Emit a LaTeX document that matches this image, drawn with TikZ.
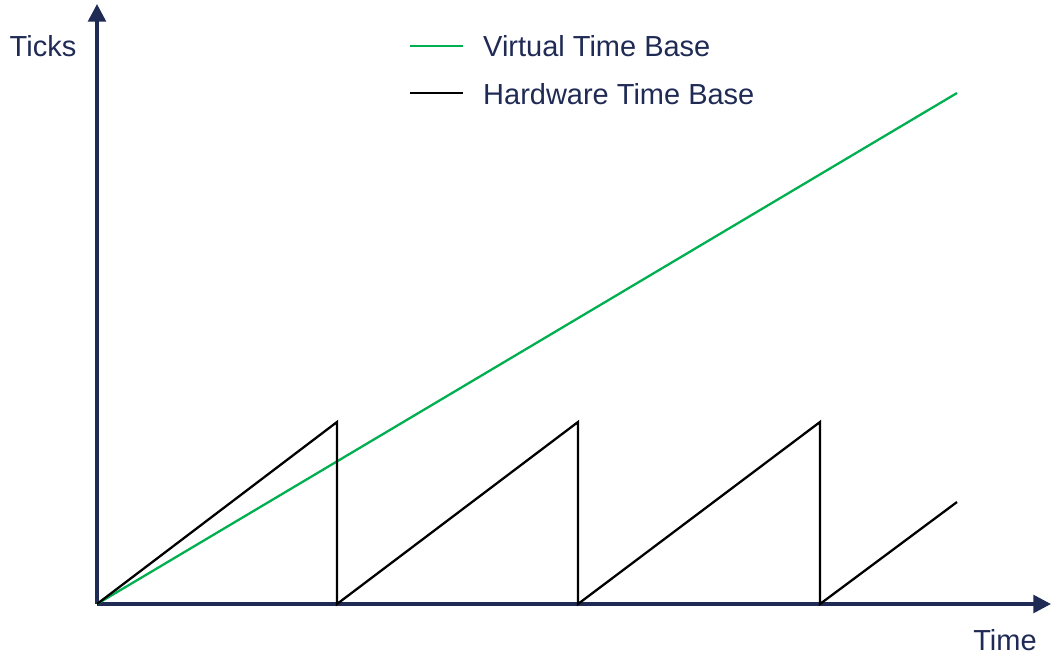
\documentclass[tikz,border=0pt]{standalone}
\usepackage{fontspec}
\setmainfont{Liberation Sans}
\usetikzlibrary{arrows.meta}
\definecolor{navy}{HTML}{1F2A55}
\definecolor{vgreen}{HTML}{00B050}
\tikzset{
  axis/.style={navy, line width=2pt, -{Triangle[length=10pt,width=10pt]}},
  label/.style={navy, font=\fontsize{16.5}{19}\selectfont},
  virtual/.style={vgreen, line width=1.3pt},
  hardware/.style={black, line width=1.3pt, line join=miter}
}
\begin{document}
\begin{tikzpicture}[x=0.02cm, y=-0.02cm]
    \useasboundingbox (0,0) rectangle (1051,660);
    \coordinate (O)     at (97,604);
    \coordinate (ytip)  at (97,4);
    \coordinate (xtip)  at (1051,604);
    \draw [axis] (O) -- (ytip);
    \draw [axis] (O) -- (xtip);
    \node [label] (ticks) at (43,46)   {Ticks};
    \node [label] (time)  at (1005,640) {Time};
    % legend
    \coordinate (g1) at (410,46);
    \coordinate (g2) at (463,46);
    \coordinate (h1) at (410,93);
    \coordinate (h2) at (463,93);
    \draw [virtual]  (g1) -- (g2);
    \draw [hardware] (h1) -- (h2);
    \node [label, anchor=west] (vlabel) at (477,46) {Virtual Time Base};
    \node [label, anchor=west] (hlabel) at (477,94) {Hardware Time Base};
    % curves
    \coordinate (vend) at (957,93);
    \draw [virtual] (O) -- (vend);
    \draw [hardware] (O) -- (337,422) -- (337,604) -- (578,422) -- (578,604)
                         -- (820,422) -- (820,604) -- (957,502);
  \end{tikzpicture}
\end{document}
